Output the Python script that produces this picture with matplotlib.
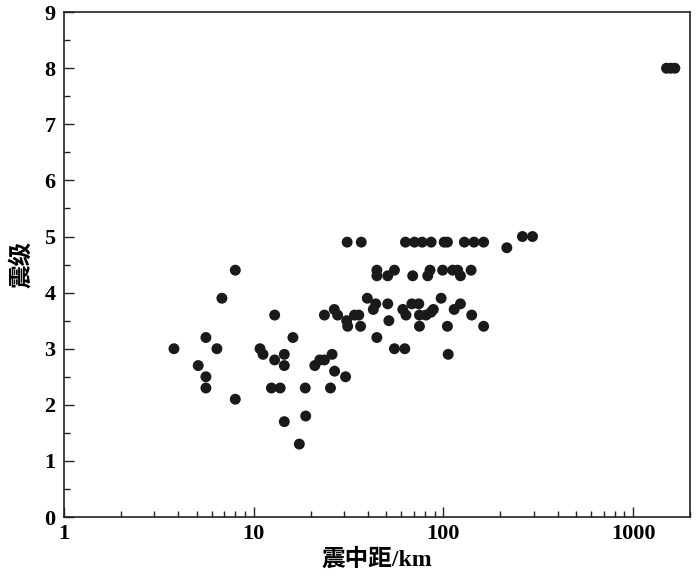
import matplotlib
matplotlib.use('Agg')
import matplotlib.pyplot as plt
import matplotlib.ticker as ticker
import numpy as np

plt.rcParams['font.family'] = ['Liberation Serif', 'Noto Sans CJK SC']
plt.rcParams['font.weight'] = 'bold'

# 震中距 (km) 和 震级
dist = [3.8, 5.1, 5.6, 5.6, 5.6, 6.4, 6.8, 8.0, 8.0,
        10.8, 11.2, 12.4, 12.9, 12.9, 13.8, 14.5, 14.5, 14.5, 16.1, 17.4,
        18.7, 18.8, 21.0, 22.3, 23.6, 23.6, 25.4, 25.9, 26.6, 26.7, 27.7,
        30.5, 30.9, 31.3, 34.0, 35.8, 36.6, 31.1, 36.9, 39.7, 42.7, 44.0,
        44.6, 44.6, 44.6, 50.9, 50.9, 51.6, 55.2, 55.2, 61.1, 62.6, 63.5,
        63.1, 68.2, 68.9, 70.4, 74.2, 74.8, 74.8, 77.3, 81.0, 82.7, 85.0,
        86.0, 86.2, 88.5, 97.3, 99.1, 101, 105, 105, 106, 112, 114, 119,
        123, 123, 129, 141, 140, 145, 163, 163, 216, 261, 295,
        1500, 1580, 1660]
mag = [3.0, 2.7, 3.2, 2.5, 2.3, 3.0, 3.9, 4.4, 2.1,
       3.0, 2.9, 2.3, 3.6, 2.8, 2.3, 2.9, 2.7, 1.7, 3.2, 1.3,
       2.3, 1.8, 2.7, 2.8, 2.8, 3.6, 2.3, 2.9, 3.7, 2.6, 3.6,
       2.5, 3.5, 3.4, 3.6, 3.6, 3.4, 4.9, 4.9, 3.9, 3.7, 3.8,
       4.4, 4.3, 3.2, 4.3, 3.8, 3.5, 4.4, 3.0, 3.7, 3.0, 3.6,
       4.9, 3.8, 4.3, 4.9, 3.8, 3.6, 3.4, 4.9, 3.6, 4.3, 4.4,
       3.65, 4.9, 3.7, 3.9, 4.4, 4.9, 4.9, 3.4, 2.9, 4.4, 3.7, 4.4,
       4.3, 3.8, 4.9, 3.6, 4.4, 4.9, 4.9, 3.4, 4.8, 5.0, 5.0,
       8.0, 8.0, 8.0]

fig = plt.figure(figsize=(7.0, 5.78), dpi=100)
ax = fig.add_axes([0.0914, 0.1055, 0.8946, 0.8735])

ax.scatter(dist, mag, s=62, color='#1a1a1a', edgecolors='none', zorder=3)

ax.set_xscale('log')
ax.set_xlim(1, 2000)
ax.set_ylim(0, 9)
ax.xaxis.set_major_locator(ticker.LogLocator(base=10))
ax.xaxis.set_major_formatter(ticker.FuncFormatter(lambda v, p: '%d' % v))
ax.xaxis.set_minor_locator(ticker.LogLocator(base=10, subs=np.arange(2, 10)))
ax.xaxis.set_minor_formatter(ticker.NullFormatter())
ax.yaxis.set_major_locator(ticker.MultipleLocator(1))
ax.yaxis.set_minor_locator(ticker.MultipleLocator(0.5))

ax.tick_params(which='both', direction='in', top=False, right=False,
               labelsize=16, width=1.0, color='#222222')
ax.tick_params(which='major', length=7)
ax.tick_params(which='minor', length=4)
ax.tick_params(axis='x', pad=5)
ax.tick_params(axis='y', pad=6)
for sp in ax.spines.values():
    sp.set_linewidth(1.2)
    sp.set_color('#222222')

ax.set_xlabel('震中距/km', fontsize=17, fontweight='bold', labelpad=3)
ax.set_ylabel('震级', fontsize=17, fontweight='bold', labelpad=8)

fig.savefig('out.png', dpi=100)
